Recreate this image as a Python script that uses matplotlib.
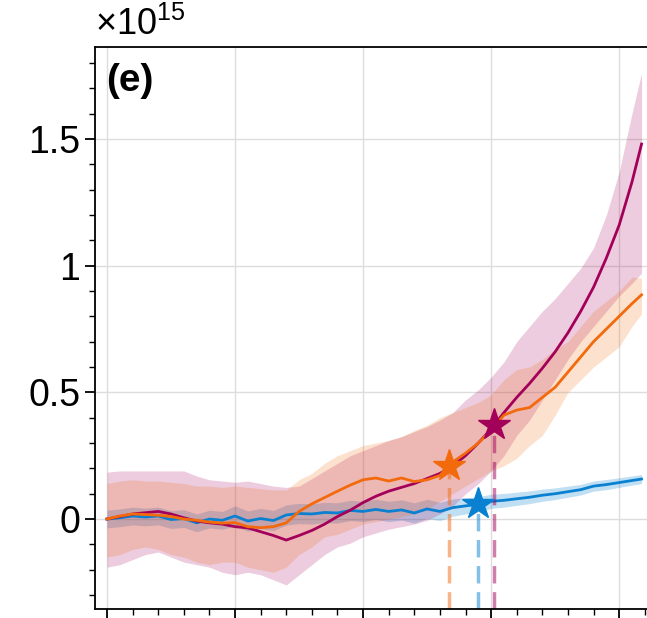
import numpy as np
import matplotlib
matplotlib.use("Agg")
import matplotlib.pyplot as plt
from matplotlib.ticker import MultipleLocator, FuncFormatter

plt.rcParams['font.family'] = ['Liberation Sans', 'DejaVu Sans']
plt.rcParams['mathtext.fontset'] = 'custom'
plt.rcParams['mathtext.rm'] = 'Liberation Sans'

# values in units of 1e15, sampled every 2 time steps
x = list(range(0, 84, 2)) + [83.5]

blue = [0.0, 0.005, 0.012, 0.008, 0.012, -0.002, 0.002, -0.015, 0.0, -0.005,
        0.012, -0.008, 0.002, -0.006, 0.016, 0.022, 0.02, 0.026, 0.024, 0.034,
        0.03, 0.038, 0.03, 0.036, 0.024, 0.04, 0.03, 0.045, 0.052, 0.058,
        0.07, 0.074, 0.08, 0.086, 0.094, 0.1, 0.108, 0.116, 0.13, 0.136,
        0.144, 0.152, 0.158]
blue_hw = [0.035, 0.035, 0.035, 0.035, 0.035, 0.035, 0.035, 0.035, 0.035, 0.035,
           0.04, 0.04, 0.04, 0.04, 0.04, 0.04, 0.04, 0.04, 0.04, 0.04,
           0.04, 0.04, 0.04, 0.04, 0.04, 0.038, 0.036, 0.034, 0.032, 0.03,
           0.028, 0.027, 0.026, 0.025, 0.024, 0.023, 0.022, 0.021, 0.02, 0.02,
           0.019, 0.018, 0.018]

orange = [0.0, 0.012, 0.02, 0.018, 0.015, 0.01, 0.0, -0.005, -0.012, -0.016,
          -0.014, -0.03, -0.034, -0.03, -0.015, 0.03, 0.06, 0.085, 0.11, 0.134,
          0.155, 0.162, 0.15, 0.162, 0.148, 0.155, 0.172, 0.225, 0.26, 0.3,
          0.35, 0.41, 0.43, 0.44, 0.48, 0.52, 0.58, 0.64, 0.7, 0.75,
          0.8, 0.85, 0.885]
orange_hi = [0.14, 0.15, 0.155, 0.15, 0.15, 0.145, 0.14, 0.13, 0.13, 0.125,
             0.13, 0.125, 0.12, 0.115, 0.115, 0.155, 0.18, 0.22, 0.25, 0.27,
             0.29, 0.3, 0.31, 0.325, 0.35, 0.37, 0.4, 0.42, 0.44, 0.46,
             0.49, 0.55, 0.59, 0.6, 0.63, 0.67, 0.7, 0.76, 0.82, 0.86,
             0.9, 0.955, 0.95]
orange_lo = [-0.15, -0.14, -0.12, -0.11, -0.12, -0.14, -0.15, -0.17, -0.18, -0.17,
             -0.17, -0.19, -0.2, -0.21, -0.19, -0.14, -0.11, -0.07, -0.06, -0.04,
             -0.02, -0.01, 0.0, 0.01, 0.02, 0.04, 0.07, 0.1, 0.13, 0.16,
             0.19, 0.21, 0.24, 0.29, 0.33, 0.41, 0.5, 0.55, 0.6, 0.64,
             0.68, 0.76, 0.81]

magenta = [0.0, 0.01, 0.02, 0.025, 0.03, 0.02, 0.005, -0.008, -0.015, -0.02,
           -0.03, -0.035, -0.05, -0.065, -0.083, -0.065, -0.045, -0.02, 0.01, 0.035,
           0.065, 0.09, 0.11, 0.125, 0.14, 0.16, 0.18, 0.21, 0.25, 0.3,
           0.355, 0.42, 0.48, 0.535, 0.595, 0.66, 0.735, 0.82, 0.915, 1.03,
           1.16, 1.33, 1.48]
magenta_hi = [0.185, 0.19, 0.19, 0.19, 0.19, 0.19, 0.19, 0.17, 0.155, 0.15,
              0.145, 0.15, 0.14, 0.13, 0.125, 0.13, 0.16, 0.19, 0.22, 0.25,
              0.27, 0.29, 0.31, 0.325, 0.345, 0.365, 0.39, 0.42, 0.47, 0.51,
              0.56, 0.62, 0.7, 0.76, 0.82, 0.87, 0.93, 0.99, 1.07, 1.2,
              1.37, 1.6, 1.76]
magenta_lo = [-0.19, -0.18, -0.16, -0.14, -0.13, -0.15, -0.17, -0.18, -0.19, -0.21,
              -0.22, -0.21, -0.22, -0.24, -0.26, -0.22, -0.18, -0.14, -0.11, -0.095,
              -0.07, -0.055, -0.04, -0.03, -0.02, -0.005, 0.02, 0.05, 0.1, 0.14,
              0.19, 0.25, 0.33, 0.39, 0.47, 0.55, 0.63, 0.7, 0.76, 0.82,
              0.88, 0.93, 0.97]

# tipping points
tip_orange = 53.4
tip_blue = 58.0
tip_magenta = 60.5

c_blue = '#0a80d0'
c_orange = '#f26a0c'
c_magenta = '#a3005a'

fig = plt.figure(figsize=(6.47, 6.18), dpi=100)
ax = fig.add_axes([95 / 647, 9 / 618, 560 / 647, 562 / 618])

x = np.array(x)
ax.fill_between(x, np.array(blue) - np.array(blue_hw), np.array(blue) + np.array(blue_hw),
                color=c_blue, alpha=0.25, lw=0)
ax.plot(x, blue, color=c_blue, lw=2)
ax.fill_between(x, magenta_lo, magenta_hi, color=c_magenta, alpha=0.2, lw=0)
ax.plot(x, magenta, color=c_magenta, lw=2)
ax.fill_between(x, orange_lo, orange_hi, color=c_orange, alpha=0.2, lw=0)
ax.plot(x, orange, color=c_orange, lw=2)

ymin = -0.355
for tx, ys, c in [(tip_orange, orange, c_orange), (tip_blue, blue, c_blue),
                  (tip_magenta, magenta, c_magenta)]:
    ty = np.interp(tx, x, ys)
    ax.plot([tx, tx], [ymin, ty], color=c, alpha=0.5, lw=2.5, ls=(0, (5, 2.5)))
    ax.plot(tx, ty, marker='*', ms=24, color=c, mec=c, ls='none', zorder=5)

ax.set_xlim(-1.875, 85.6)
ax.set_ylim(ymin, 1.863)
ax.xaxis.set_major_locator(MultipleLocator(20))
ax.xaxis.set_minor_locator(MultipleLocator(4))
ax.yaxis.set_major_locator(MultipleLocator(0.5))
ax.yaxis.set_minor_locator(MultipleLocator(0.1))
ax.yaxis.set_major_formatter(FuncFormatter(lambda v, p: '%g' % v))
ax.set_xticklabels([])
ax.grid(True, which='major', color='#dddddd', lw=1)
ax.set_axisbelow(True)
ax.tick_params(which='major', direction='out', length=7, width=1.3, labelsize=27)
ax.tick_params(which='minor', direction='out', length=4, width=1.0)
for s in ax.spines.values():
    s.set_linewidth(1.3)

ax.text(0.02, 0.972, '(e)', transform=ax.transAxes, fontsize=28,
        fontweight='bold', va='top', ha='left')
ax.text(0.0, 1.008, r'$\times\mathregular{10^{15}}$', transform=ax.transAxes,
        fontsize=26, va='bottom', ha='left')

fig.savefig('out.png', dpi=100)
